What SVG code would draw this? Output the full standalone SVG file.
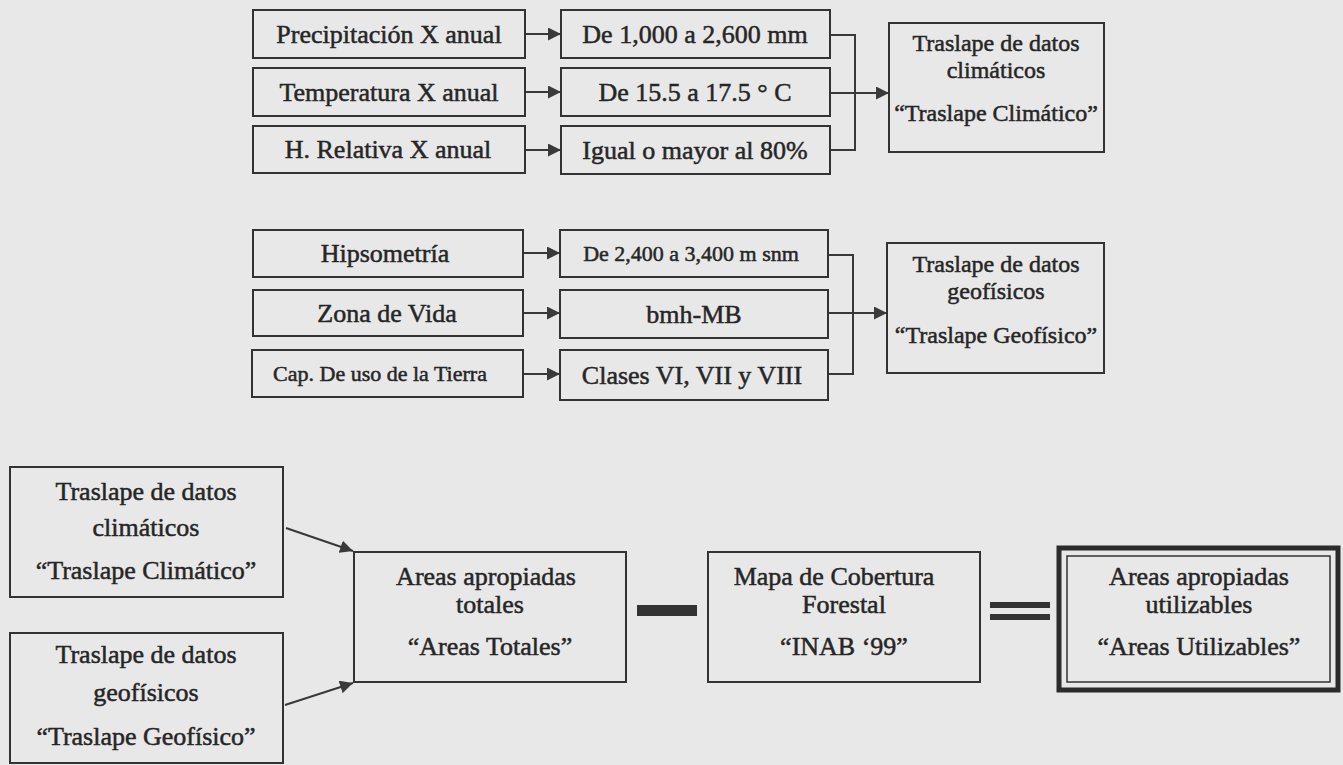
<svg xmlns="http://www.w3.org/2000/svg" width="1343" height="765" viewBox="0 0 1343 765">
<defs>
<style>
.bg{fill:#e8e8e8}
.box{fill:none;stroke:#333;stroke-width:2}
.t{font-family:"Liberation Serif","Times New Roman",serif;font-size:26px;fill:#262626;stroke:#262626;stroke-width:0.5;text-anchor:middle}
.s{font-size:22px}
.m{font-size:24px}
.c{fill:none;stroke:#383838;stroke-width:2}
.bar{fill:#333}
</style>
<marker id="ah" viewBox="0 0 12 12" refX="12" refY="6" markerWidth="13" markerHeight="13" markerUnits="userSpaceOnUse" orient="auto">
<path d="M0,0 L12,6 L0,12 z" fill="#3a3a3a"/>
</marker>
</defs>
<rect class="bg" x="0" y="0" width="1343" height="765"/>

<g id="connectors">
<line class="c" x1="525" y1="34" x2="561" y2="34" marker-end="url(#ah)"/>
<line class="c" x1="525" y1="92" x2="561" y2="92" marker-end="url(#ah)"/>
<line class="c" x1="525" y1="150" x2="561" y2="150" marker-end="url(#ah)"/>
<polyline class="c" points="830,35 855,35 855,150 830,150"/>
<line class="c" x1="830" y1="93" x2="889" y2="93" marker-end="url(#ah)"/>
<line class="c" x1="523" y1="253" x2="560" y2="253" marker-end="url(#ah)"/>
<line class="c" x1="523" y1="313" x2="560" y2="313" marker-end="url(#ah)"/>
<line class="c" x1="523" y1="374" x2="560" y2="374" marker-end="url(#ah)"/>
<polyline class="c" points="828,255 853,255 853,374 828,374"/>
<line class="c" x1="828" y1="313" x2="887" y2="313" marker-end="url(#ah)"/>
<line class="c" x1="286" y1="528" x2="353" y2="551" marker-end="url(#ah)"/>
<line class="c" x1="285" y1="705" x2="353" y2="683" marker-end="url(#ah)"/>
<rect class="bar" x="637" y="605" width="60" height="11"/>
<rect class="bar" x="990" y="602" width="60" height="6"/>
<rect class="bar" x="990" y="614" width="60" height="6"/>
</g>

<g id="n1"><rect class="box" x="253" y="10" width="272" height="48"/><text class="t" x="389" y="43">Precipitación X anual</text></g>
<g id="n2"><rect class="box" x="253" y="68" width="272" height="48"/><text class="t" x="389" y="101">Temperatura X anual</text></g>
<g id="n3"><rect class="box" x="253" y="126" width="272" height="47"/><text class="t" x="388" y="158">H. Relativa X anual</text></g>
<g id="n4"><rect class="box" x="561" y="10" width="269" height="48"/><text class="t" x="695" y="43">De 1,000 a 2,600 mm</text></g>
<g id="n5"><rect class="box" x="561" y="68" width="269" height="48"/><text class="t" x="695" y="101">De 15.5 a 17.5 ° C</text></g>
<g id="n6"><rect class="box" x="561" y="126" width="269" height="48"/><text class="t" x="695" y="159">Igual o mayor al 80%</text></g>
<g id="n7"><rect class="box" x="889" y="23" width="215" height="129"/>
<text class="t m" x="996" y="51">Traslape de datos</text>
<text class="t m" x="996" y="78">climáticos</text>
<text class="t m" x="996" y="121">“Traslape Climático”</text></g>

<g id="n8"><rect class="box" x="253" y="230" width="270" height="47"/><text class="t" x="385" y="262">Hipsometría</text></g>
<g id="n9"><rect class="box" x="253" y="290" width="270" height="46"/><text class="t" x="387" y="322">Zona de Vida</text></g>
<g id="n10"><rect class="box" x="252" y="350" width="271" height="47"/><text class="t s" x="380" y="381">Cap. De uso de la Tierra</text></g>
<g id="n11"><rect class="box" x="560" y="230" width="268" height="47"/><text class="t s" x="691" y="261">De 2,400 a 3,400 m snm</text></g>
<g id="n12"><rect class="box" x="560" y="290" width="268" height="48"/><text class="t" x="694" y="323">bmh-MB</text></g>
<g id="n13"><rect class="box" x="560" y="350" width="268" height="50"/><text class="t" x="692" y="384">Clases VI, VII y VIII</text></g>
<g id="n14"><rect class="box" x="887" y="243" width="217" height="130"/>
<text class="t m" x="996" y="272">Traslape de datos</text>
<text class="t m" x="996" y="299">geofísicos</text>
<text class="t m" x="996" y="343">“Traslape Geofísico”</text></g>

<g id="n15"><rect class="box" x="10" y="467" width="273" height="130"/>
<text class="t" x="146" y="500">Traslape de datos</text>
<text class="t" x="146" y="536">climáticos</text>
<text class="t" x="146" y="579">“Traslape Climático”</text></g>
<g id="n16"><rect class="box" x="10" y="633" width="273" height="130"/>
<text class="t" x="146" y="663">Traslape de datos</text>
<text class="t" x="146" y="701">geofísicos</text>
<text class="t" x="146" y="745">“Traslape Geofísico”</text></g>
<g id="n17"><rect class="box" x="354" y="552" width="272" height="130"/>
<text class="t" x="486" y="585">Areas apropiadas</text>
<text class="t" x="490" y="613">totales</text>
<text class="t" x="490" y="655">“Areas Totales”</text></g>
<g id="n18"><rect class="box" x="708" y="552" width="272" height="130"/>
<text class="t" x="834" y="585">Mapa de Cobertura</text>
<text class="t" x="844" y="613">Forestal</text>
<text class="t" x="844" y="655">“INAB ‘99”</text></g>
<g id="n19"><rect fill="none" stroke="#2b2b2b" stroke-width="5" x="1059" y="548" width="279" height="142"/>
<rect fill="none" stroke="#333" stroke-width="1.5" x="1067" y="556" width="263" height="126"/>
<text class="t" x="1199" y="585" stroke-width="0.7">Areas apropiadas</text>
<text class="t" x="1199" y="613" stroke-width="0.7">utilizables</text>
<text class="t" x="1199" y="655" stroke-width="0.7">“Areas Utilizables”</text></g>
</svg>
